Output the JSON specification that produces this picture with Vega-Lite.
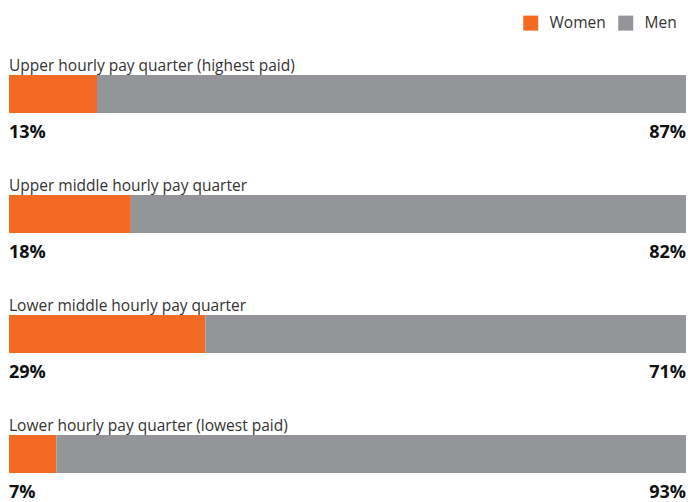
{
  "$schema": "https://vega.github.io/schema/vega-lite/v6.json",
  "width": 677,
  "height": 502,
  "autosize": "none",
  "padding": {"left": 9, "right": 2, "top": 0, "bottom": 0},
  "background": "white",
  "config": {
    "view": {"stroke": null},
    "font": "Open Sans",
    "legend": {"padding": 0}
  },
  "data": {
    "values": [
      {"quarter": "Upper hourly pay quarter (highest paid)", "gender": "Women", "share": 0.13},
      {"quarter": "Upper hourly pay quarter (highest paid)", "gender": "Men", "share": 0.87},
      {"quarter": "Upper middle hourly pay quarter", "gender": "Women", "share": 0.18},
      {"quarter": "Upper middle hourly pay quarter", "gender": "Men", "share": 0.82},
      {"quarter": "Lower middle hourly pay quarter", "gender": "Women", "share": 0.29},
      {"quarter": "Lower middle hourly pay quarter", "gender": "Men", "share": 0.71},
      {"quarter": "Lower hourly pay quarter (lowest paid)", "gender": "Women", "share": 0.07},
      {"quarter": "Lower hourly pay quarter (lowest paid)", "gender": "Men", "share": 0.93}
    ]
  },
  "encoding": {
    "y": {
      "field": "quarter",
      "type": "nominal",
      "sort": null,
      "axis": null,
      "scale": {"range": [34, 514], "paddingInner": 0, "paddingOuter": 0}
    }
  },
  "layer": [
    {
      "mark": {"type": "bar", "height": {"band": 0.317}},
      "encoding": {
        "x": {"field": "share", "type": "quantitative", "stack": "zero", "axis": null, "scale": {"domain": [0, 1], "nice": false}},
        "order": {"field": "gender", "sort": "descending"},
        "color": {
          "field": "gender",
          "type": "nominal",
          "sort": ["Women", "Men"],
          "scale": {"domain": ["Women", "Men"], "range": ["#F26A24", "#939598"]},
          "legend": {
            "title": null,
            "orient": "none",
            "direction": "horizontal",
            "legendX": 514,
            "legendY": 15,
            "symbolType": "square",
            "symbolSize": 225,
            "symbolStrokeWidth": 0,
            "symbolOpacity": 1,
            "labelFontSize": 15.5,
            "labelColor": "#333333",
            "labelOffset": 11,
            "columnPadding": 12
          }
        }
      }
    },
    {
      "transform": [{"filter": "datum.gender === 'Women'"}],
      "mark": {"type": "text", "align": "left", "baseline": "alphabetic", "dy": -23, "fontSize": 15.5, "color": "#333333"},
      "encoding": {
        "x": {"datum": 0, "type": "quantitative"},
        "text": {"field": "quarter"}
      }
    },
    {
      "transform": [{"filter": "datum.gender === 'Women'"}],
      "mark": {"type": "text", "align": "left", "baseline": "alphabetic", "dy": 44, "fontSize": 18, "fontWeight": "bold", "color": "#111111"},
      "encoding": {
        "x": {"datum": 0, "type": "quantitative"},
        "text": {"field": "share", "format": ".0%"}
      }
    },
    {
      "transform": [{"filter": "datum.gender === 'Men'"}],
      "mark": {"type": "text", "align": "right", "baseline": "alphabetic", "dy": 44, "fontSize": 18, "fontWeight": "bold", "color": "#111111"},
      "encoding": {
        "x": {"datum": 1, "type": "quantitative"},
        "text": {"field": "share", "format": ".0%"}
      }
    }
  ]
}
